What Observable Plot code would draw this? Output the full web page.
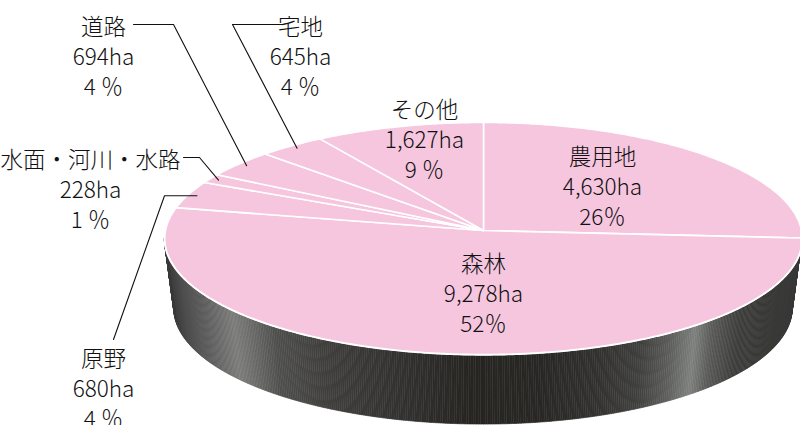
<!DOCTYPE html>
<html><head><meta charset="utf-8">
<script src="https://cdn.jsdelivr.net/npm/d3@7"></script>
<script src="https://cdn.jsdelivr.net/npm/@observablehq/plot@0.6"></script>
<style>html,body{margin:0;padding:0;background:#fff;} #chart svg{display:block;}</style>
</head><body><div id="chart"></div>
<script>
// ---- data ----
const categories = ["農用地", "森林", "原野", "水面・河川・水路", "道路", "宅地", "その他"];
const areas = [4630, 9278, 680, 228, 694, 645, 1627];

// ---- layout (pixels) ----
const labelX = [602, 483, 103, 90, 103, 300, 424];
const labelY = [185, 292, 387, 188, 55, 55, 138];
// leaders: elbow [x, y (null = same as pie point)], end [x, y]
const leaderCats = ["原野", "水面・河川・水路", "道路", "宅地"];
const leaderElbow = [[164, null], [199, 157], [173, 24], [232, 24]];
const leaderEnd = [[113, 339], [183, 157], [133, 24], [282, 24]];
// side wall shading stops: [pixel x, colour]
const sideStops = [
  [164, "#3a3a3a"], [180, "#4a4a4a"], [200, "#5a5a5a"], [232, "#7b7b7a"], [250, "#6a6a69"],
  [275, "#4e4e4d"], [320, "#403f3d"], [400, "#323130"], [470, "#262522"], [540, "#282725"],
  [600, "#333230"], [640, "#3f3f3d"], [670, "#5c5d5b"], [695, "#7e807e"], [712, "#5a5b59"],
  [740, "#3c3c3a"], [780, "#343432"], [801, "#3a3a3a"]
];

// pie projection parameters
const CX = 483, CY = 230, A = 318, B = 115.5, K = 0.069, DEPTH = 70, SHRINK = 0.97;
const PINK = "#f6c6df";

const total = d3.sum(areas);
const arcs = d3.pie().sort(null).value(d => d)(areas);
function proj(theta, r = 1) {
  const s = Math.sin(theta) * r, c = Math.cos(theta) * r, w = 1 + K * c;
  return [CX + A * s / w, CY - B * c / w];
}
const step = Math.PI / 360;

// top face slices
const sliceRows = [];
arcs.forEach((a, i) => {
  const cat = categories[i];
  sliceRows.push({cat, x: CX, y: CY});
  const n = Math.max(2, Math.ceil((a.endAngle - a.startAngle) / step));
  for (let j = 0; j <= n; j++) {
    const t = a.startAngle + (a.endAngle - a.startAngle) * j / n;
    const [x, y] = proj(t);
    sliceRows.push({cat, x, y});
  }
  sliceRows.push({cat, x: CX, y: CY});
});

// side wall as thin shaded strips
const shade = d3.scaleLinear().domain(sideStops.map(d => d[0])).range(sideStops.map(d => d[1]))
  .interpolate(d3.interpolateRgb).clamp(true);
const tR = Math.acos(-K), tL = 2 * Math.PI - tR;
const ns = 420;
const sideRows = [];
const rimRows = [];
for (let j = 0; j <= ns; j++) {
  const [x, y] = proj(tR + (tL - tR) * j / ns);
  rimRows.push({x, y});
}
for (let j = 0; j < ns; j++) {
  const p0 = rimRows[j], p1 = rimRows[j + 1];
  const color = shade((p0.x + p1.x) / 2);
  [p0, p1].forEach(p => sideRows.push({
    seg: j, color,
    xt: p.x, yt: p.y,
    xb: CX + SHRINK * (p.x - CX), yb: p.y + DEPTH
  }));
}

// leaders
const leaderRows = [];
leaderCats.forEach((cat, li) => {
  const i = categories.indexOf(cat);
  const mid = (arcs[i].startAngle + arcs[i].endAngle) / 2;
  const [px, py] = proj(mid, 0.97);
  const [ex, ey] = leaderElbow[li];
  const [tx, ty] = leaderEnd[li];
  leaderRows.push({cat, x: px, y: py});
  leaderRows.push({cat, x: ex, y: ey === null ? py : ey});
  leaderRows.push({cat, x: tx, y: ty});
});

// labels
function pctText(v) {
  const p = Math.round(v / total * 100);
  return p < 10 ? p + " ％" : p + "％";
}
const labelRows = categories.map((c, i) => ({
  x: labelX[i], y: labelY[i],
  text: `${c}\n${d3.format(",")(areas[i])}ha\n${pctText(areas[i])}`
}));

const chart = Plot.plot({
  width: 800, height: 425,
  marginTop: 0, marginRight: 0, marginBottom: 0, marginLeft: 0,
  x: {type: "linear", domain: [0, 800], range: [0, 800], axis: null},
  y: {type: "linear", domain: [0, 425], range: [0, 425], axis: null},
  color: {type: "identity"},
  style: {background: "#fff"},
  marks: [
    Plot.area(sideRows, {x1: "xb", y1: "yb", x2: "xt", y2: "yt", z: "seg", fill: "color", stroke: "color", strokeWidth: 0.6, curve: "linear"}),
    Plot.line(rimRows, {x: "x", y: "y", stroke: "#fff", strokeWidth: 2.2, curve: "linear"}),
    Plot.line(sliceRows, {x: "x", y: "y", z: "cat", fill: PINK, stroke: "#fff", strokeWidth: 1.6, strokeLinejoin: "round", curve: "linear"}),
    Plot.line(leaderRows, {x: "x", y: "y", z: "cat", stroke: "#111", strokeWidth: 1.1, curve: "linear"}),
    Plot.text(labelRows, {x: "x", y: "y", text: "text", fontSize: 22.5, fontWeight: 300, lineHeight: 1.33, fill: "#111", fontFamily: "'Noto Sans CJK JP', sans-serif"})
  ]
});

document.getElementById("chart").appendChild(chart);
</script>
</body></html>
